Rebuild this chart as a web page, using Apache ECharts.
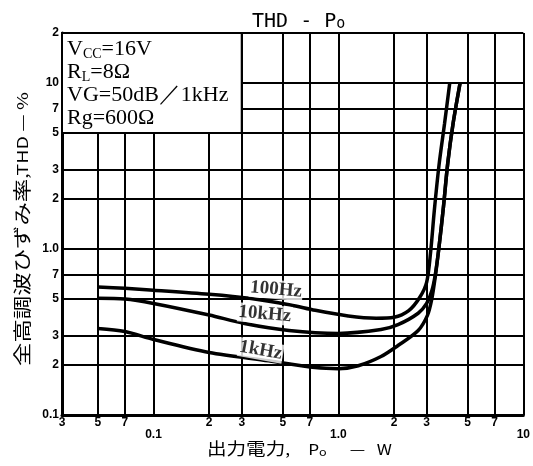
<!DOCTYPE html>
<html>
<head>
<meta charset="utf-8">
<script src="https://cdn.jsdelivr.net/npm/echarts@6/dist/echarts.min.js"></script>
<style>
  html, body { margin: 0; padding: 0; background: #fff; }
  #chart { width: 533px; height: 466px; }
</style>
</head>
<body>
<div id="chart"></div>
<script>
// Axis ticks (log-log grid) and their printed labels
const xTicks = [0.032, 0.05, 0.07, 0.1, 0.2, 0.3, 0.5, 0.7, 1, 2, 3, 5, 7, 10];
const xTickText = ['3', '5', '7', '0.1', '2', '3', '5', '7', '1.0', '2', '3', '5', '7', '10'];
const yTicks = [0.1, 0.2, 0.3, 0.5, 0.7, 1, 2, 3, 5, 7, 10, 20];
const yTickText = ['0.1', '2', '3', '5', '7', '1.0', '2', '3', '5', '7', '10', '2'];

// THD (%) versus output power Po (W), one curve per test frequency
const po100Hz  = [0.05, 0.07, 0.1, 0.2, 0.33, 0.55, 0.75, 1.13, 1.6, 2.0, 2.4, 2.75, 3.0, 3.15, 3.3, 3.5, 3.75, 4.0];
const thd100Hz = [0.59, 0.58, 0.565, 0.534, 0.505, 0.46, 0.427, 0.395, 0.383, 0.388, 0.425, 0.51, 0.63, 0.95, 1.7, 3.2, 5.7, 10];

const po10kHz  = [0.05, 0.07, 0.1, 0.2, 0.31, 0.54, 1.0, 1.7, 2.1, 2.7, 3.0, 3.2, 3.34, 3.5, 3.7, 3.9, 4.17, 4.55];
const thd10kHz = [0.505, 0.5, 0.47, 0.4, 0.356, 0.323, 0.31, 0.327, 0.35, 0.41, 0.47, 0.56, 0.7, 1.03, 1.8, 3.27, 5.7, 10];

const po1kHz  = [0.05, 0.07, 0.1, 0.2, 0.42, 0.75, 1.0, 1.28, 1.7, 2.1, 2.7, 3.03, 3.2, 3.34, 3.5, 3.7, 3.9, 4.17, 4.55];
const thd1kHz = [0.332, 0.318, 0.285, 0.238, 0.212, 0.193, 0.19, 0.198, 0.225, 0.262, 0.323, 0.398, 0.5, 0.68, 1.03, 1.8, 3.27, 5.7, 10];

// Curve captions: text, anchor (Po, THD) and tilt in degrees
const captionText = ['100Hz', '10kHz', '1kHz'];
const captionPo   = [0.46, 0.40, 0.38];
const captionThd  = [0.57, 0.405, 0.245];
const captionTilt = [-5, -5, -10];

// Measurement conditions box spans Po 0.032..0.3 W, THD 5..20 %
const condBoxPo  = [0.032, 0.3];
const condBoxThd = [5, 20];

function pick(ticks, texts, v) {
  for (let i = 0; i < ticks.length; i++) {
    if (Math.abs(Math.log10(ticks[i]) - Math.log10(v)) < 1e-4) return texts[i];
  }
  return '';
}
const zip = (a, b) => a.map((v, i) => [v, b[i]]);

const chart = echarts.init(document.getElementById('chart'), null, { renderer: 'canvas' });

const curveStyle = { color: '#000', width: 3.5 };
function curve(name, po, thd, extra) {
  return Object.assign({
    name: name,
    type: 'line',
    data: zip(po, thd),
    smooth: 0.3,
    showSymbol: false,
    symbol: 'none',
    lineStyle: curveStyle,
    itemStyle: { color: '#000' },
    silent: true,
    z: 3
  }, extra || {});
}

const option = {
  animation: false,
  backgroundColor: '#fff',
  title: {
    text: 'THD - P{s|o}',
    left: 247,
    top: 7,
    textStyle: {
      fontFamily: 'DejaVu Sans Mono',
      fontSize: 20,
      fontWeight: 'normal',
      color: '#000',
      rich: {
        s: { fontFamily: 'DejaVu Sans Mono', fontSize: 15, color: '#000', verticalAlign: 'bottom', lineHeight: 16 }
      }
    }
  },
  grid: { left: 62, right: 4, top: 33, bottom: 51, containLabel: false },
  xAxis: {
    type: 'log',
    logBase: 10,
    min: xTicks[0],
    max: xTicks[xTicks.length - 1],
    axisLine: { show: true, lineStyle: { color: '#000', width: 3 } },
    axisTick: { show: false, customValues: xTicks },
    splitLine: { show: true, lineStyle: { color: '#000', width: 2 } },
    minorSplitLine: { show: false },
    axisLabel: {
      customValues: xTicks,
      margin: 2,
      color: '#000',
      fontFamily: 'Liberation Sans',
      fontWeight: 'bold',
      fontSize: 12,
      formatter: function (v) {
        const t = pick(xTicks, xTickText, v);
        const lg = Math.log10(v);
        return Math.abs(lg - Math.round(lg)) < 1e-4 ? '{d|' + t + '}' : t;
      },
      rich: {
        d: { fontFamily: 'Liberation Sans', fontWeight: 'bold', fontSize: 12, color: '#000', padding: [12, 0, 0, 0] }
      }
    }
  },
  yAxis: {
    type: 'log',
    logBase: 10,
    min: yTicks[0],
    max: yTicks[yTicks.length - 1],
    axisLine: { show: true, lineStyle: { color: '#000', width: 3 } },
    axisTick: { show: false, customValues: yTicks },
    splitLine: { show: true, lineStyle: { color: '#000', width: 2 } },
    minorSplitLine: { show: false },
    axisLabel: {
      customValues: yTicks,
      margin: 3,
      color: '#000',
      fontFamily: 'Liberation Sans',
      fontWeight: 'bold',
      fontSize: 12,
      formatter: function (v) { return pick(yTicks, yTickText, v); }
    }
  },
  graphic: [
    {
      type: 'text',
      x: 22,
      y: 229,
      rotation: Math.PI / 2,
      scaleX: 1.3,
      style: {
        text: '{c|全高調波ひずみ率}{l|,THD — %}',
        align: 'center',
        verticalAlign: 'middle',
        fill: '#000',
        rich: {
          c: { fontFamily: 'Noto Sans CJK JP', fontSize: 18, fill: '#000' },
          l: { fontFamily: 'Noto Sans CJK JP', fontSize: 15, fill: '#000' }
        }
      }
    },
    {
      type: 'text',
      x: 207,
      y: 449,
      scaleX: 1.15,
      style: {
        text: '{c|出力電力}{k|,}{l|P}{s|o}{g|}{l|—}{h|}{l|W}',
        align: 'left',
        verticalAlign: 'middle',
        fill: '#000',
        rich: {
          c: { fontFamily: 'Noto Sans CJK JP', fontSize: 17, fill: '#000' },
          k: { fontFamily: 'Noto Sans CJK JP', fontSize: 15, fill: '#000', width: 20 },
          l: { fontFamily: 'Noto Sans CJK JP', fontSize: 15, fill: '#000' },
          s: { fontFamily: 'Noto Sans CJK JP', fontSize: 11, fill: '#000', verticalAlign: 'bottom', lineHeight: 12 },
          g: { width: 20 },
          h: { width: 10 }
        }
      }
    }
  ],
  series: [
    curve('100Hz', po100Hz, thd100Hz, {
      markArea: {
        silent: true,
        itemStyle: { color: '#fff', borderColor: '#000', borderWidth: 2 },
        label: {
          show: true,
          position: 'insideTopLeft',
          distance: 6,
          formatter: '{t|V}{s|CC}{t|=16V}\n{t|R}{s|L}{t|=8Ω}\n{t|VG=50dB／1kHz}\n{t|Rg=600Ω}',
          rich: {
            t: { fontFamily: 'Liberation Serif', fontSize: 22, lineHeight: 23, color: '#000' },
            s: { fontFamily: 'Liberation Serif', fontSize: 14, lineHeight: 14, color: '#000', verticalAlign: 'bottom' }
          }
        },
        data: [[
          { xAxis: condBoxPo[0], yAxis: condBoxThd[0] },
          { xAxis: condBoxPo[1], yAxis: condBoxThd[1] }
        ]]
      }
    }),
    curve('10kHz', po10kHz, thd10kHz),
    curve('1kHz', po1kHz, thd1kHz),
    {
      name: 'captions',
      type: 'scatter',
      symbolSize: 0,
      silent: true,
      z: 5,
      data: captionText.map((t, i) => ({
        value: [captionPo[i], captionThd[i]],
        name: t,
        label: { rotate: captionTilt[i] }
      })),
      label: {
        show: true,
        position: 'inside',
        formatter: '{b}',
        color: '#000',
        fontFamily: 'Liberation Serif',
        fontWeight: 'bold',
        fontSize: 19,
        backgroundColor: '#fff',
        padding: [0, 1]
      }
    }
  ]
};

chart.setOption(option);
</script>
</body>
</html>
